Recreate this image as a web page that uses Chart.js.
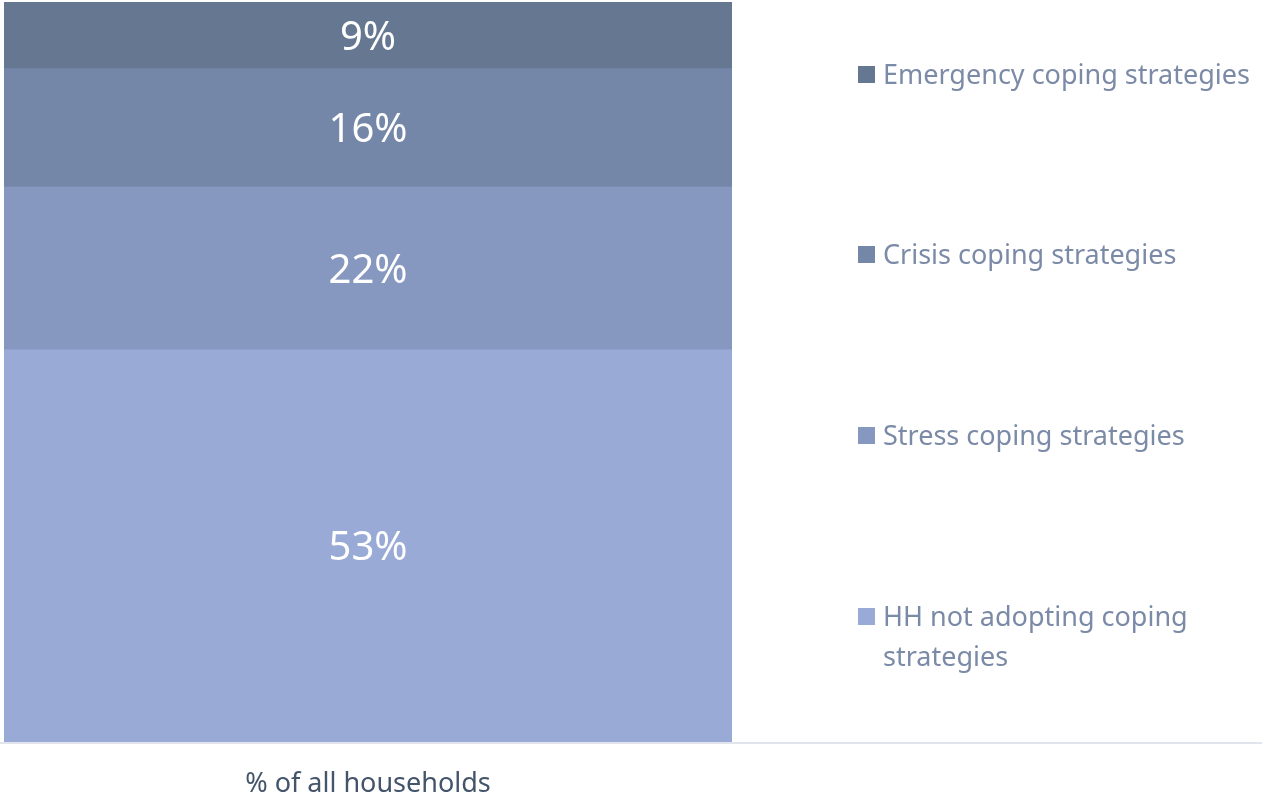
<!DOCTYPE html>
<html>
<head>
<meta charset="utf-8">
<title>Coping strategies</title>
<script src="https://cdn.jsdelivr.net/npm/chart.js@4.4.1/dist/chart.umd.min.js"></script>
<style>
  html, body { margin: 0; padding: 0; background: #fff; }
  #wrap { position: relative; width: 1263px; height: 796px; overflow: hidden; }
  #c { position: absolute; left: 0; top: 0; }
  #legend { position: absolute; left: 858px; top: 0; font-family: "Noto Sans", sans-serif; font-size: 27px; color: #7b8aa6; }
  .li { position: absolute; left: 0; display: flex; align-items: flex-start; width: 405px; line-height: 40px; }
  .sw { width: 17px; height: 17px; margin: 12px 8px 0 0; flex: none; }
  .tx { width: 375px; }
</style>
</head>
<body>
<div id="wrap">
  <canvas id="c" width="1263" height="796"></canvas>
  <div id="legend"></div>
</div>
<script>
// categories + series (bottom → top of the stack)
const CATS = ["% of all households"];
const SERIES = ["HH not adopting coping strategies", "Stress coping strategies", "Crisis coping strategies", "Emergency coping strategies"];
const VALUES = [53, 22, 16, 9];
const COLORS = ["#99aad6", "#8798c0", "#7587a8", "#667792"];
// legend rows: top y of each item (top item first)
const LEG_TOP = [54, 234, 415, 596];

const ds = SERIES.map((s, i) => ({
  label: s, data: [VALUES[i]], backgroundColor: COLORS[i], borderWidth: 0,
  barPercentage: 1, categoryPercentage: 1
}));

// white % labels in the middle of each segment
const segLabels = {
  id: "segLabels",
  afterDatasetsDraw(ch) {
    const ctx = ch.ctx;
    ctx.save();
    ctx.fillStyle = "#fff";
    ctx.font = "40px 'Noto Sans'";
    ctx.textAlign = "center"; ctx.textBaseline = "middle";
    ch.data.datasets.forEach((d, i) => {
      ch.getDatasetMeta(i).data.forEach((el, j) => {
        const p = el.getProps(["x", "y", "base"], true);
        ctx.fillText(d.data[j] + "%", p.x, (p.y + p.base) / 2 + 3);
      });
    });
    ctx.restore();
  }
};

// baseline running across the whole width
const baseLine = {
  id: "baseLine",
  afterDraw(ch) {
    const ctx = ch.ctx, y = ch.chartArea.bottom + 1;
    ctx.save();
    ctx.strokeStyle = "#e1e4ec"; ctx.lineWidth = 2;
    ctx.beginPath(); ctx.moveTo(0, y); ctx.lineTo(1262, y); ctx.stroke();
    ctx.restore();
  }
};

const chart = new Chart(document.getElementById("c"), {
  type: "bar",
  data: { labels: CATS, datasets: ds },
  options: {
    responsive: false, animation: false, devicePixelRatio: 1,
    layout: { padding: { left: 4, top: 2, right: 531, bottom: 0 } },
    plugins: { legend: { display: false }, tooltip: { enabled: false } },
    scales: {
      x: { stacked: true, grid: { display: false }, border: { display: false },
           ticks: { color: "#44546a", font: { family: "'Noto Sans'", size: 27 }, padding: 18 },
           afterFit: s => { s.height = 54; } },
      y: { stacked: true, display: false, min: 0, max: 100 }
    }
  },
  plugins: [segLabels, baseLine]
});

// legend built from the datasets, top of stack first
const leg = document.getElementById("legend");
SERIES.slice().reverse().forEach((s, k) => {
  const i = SERIES.length - 1 - k;
  const row = document.createElement("div");
  row.className = "li"; row.style.top = LEG_TOP[k] + "px";
  row.innerHTML = '<span class="sw" style="background:' + COLORS[i] + '"></span><span class="tx">' + s + '</span>';
  leg.appendChild(row);
});
</script>
</body>
</html>
